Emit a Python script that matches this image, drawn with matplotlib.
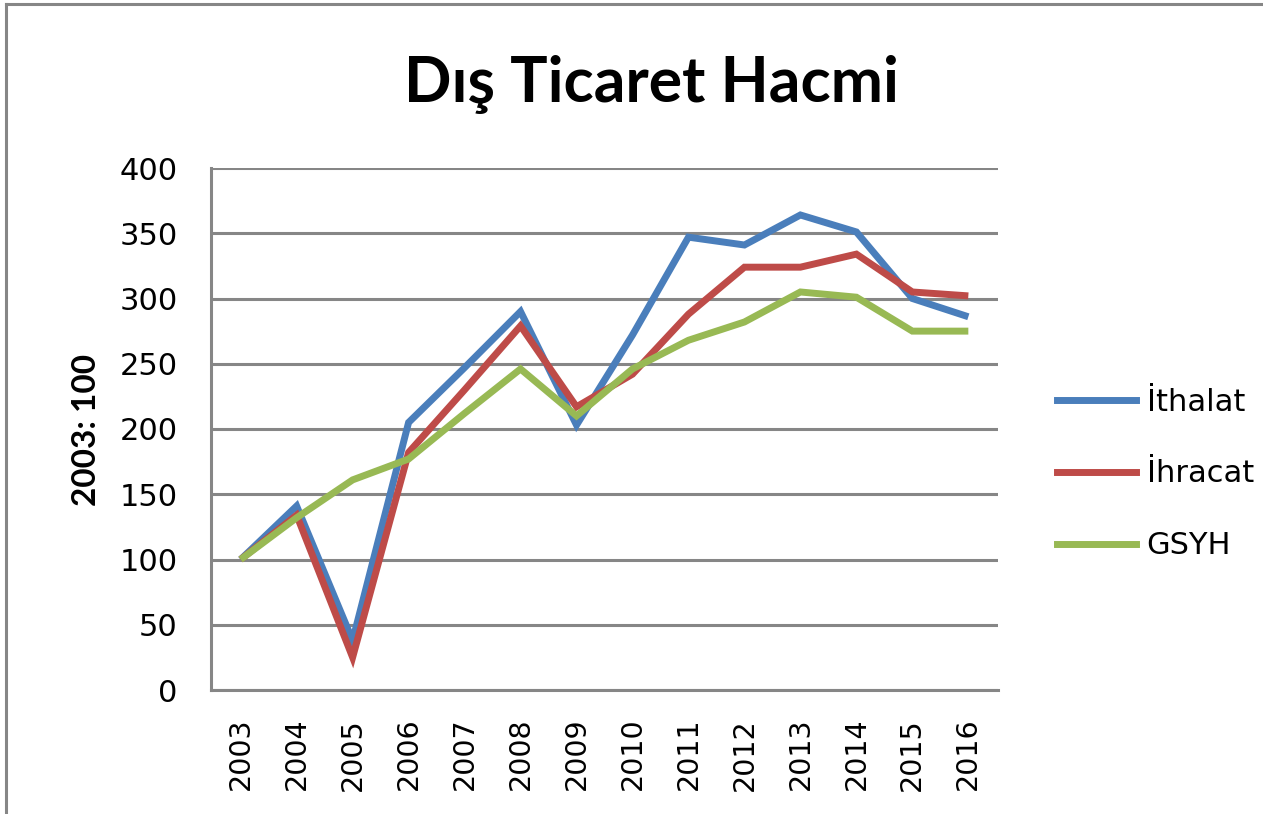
import matplotlib.pyplot as plt
from matplotlib.lines import Line2D

years = ["2003", "2004", "2005", "2006", "2007", "2008", "2009",
         "2010", "2011", "2012", "2013", "2014", "2015", "2016"]

ithalat = [100, 141, 38, 205, 247, 290, 203, 272, 347, 341, 364, 351, 300, 286]
ihracat = [100, 134, 25, 182, 230, 279, 217, 242, 288, 324, 324, 334, 305, 302]
gsyh = [100, 132, 161, 177, 212, 246, 210, 246, 268, 282, 305, 301, 275, 275]

series_names = ["İthalat", "İhracat", "GSYH"]
colors = ["#4a7ebb", "#be4b48", "#98b954"]
grid_gray = "#868686"

W, H = 1263, 814
fig = plt.figure(figsize=(W / 100, H / 100), dpi=100)
ax = fig.add_axes([211 / W, 1 - 690 / H, (998 - 211) / W, (690 - 168) / H])

x = list(range(len(years)))
for vals, c in zip([ithalat, ihracat, gsyh], colors):
    ax.plot(x, vals, color=c, lw=5, solid_joinstyle="miter", solid_capstyle="butt")

ax.set_xlim(-0.53, len(years) - 0.47)
ax.set_ylim(0, 400)
ax.set_yticks(range(0, 401, 50))
ax.set_xticks(x)
ax.set_xticklabels(years, rotation=90, fontsize=20.5, family="DejaVu Sans")
for lab in ax.get_yticklabels():
    lab.set_fontsize(22)
ax.tick_params(axis="both", length=0)
ax.tick_params(axis="y", pad=24)
ax.tick_params(axis="x", pad=20)
ax.grid(axis="y", color=grid_gray, lw=2.2)
ax.set_axisbelow(True)
for s in ["top", "right"]:
    ax.spines[s].set_visible(False)
for s in ["left", "bottom"]:
    ax.spines[s].set_color(grid_gray)
    ax.spines[s].set_linewidth(2.2)

fig.text(86 / W, 1 - 430 / H, "2003: 100", rotation=90, ha="center", va="center",
         fontsize=24, fontweight="bold", family="Lato")
fig.text(651 / W, 1 - 84 / H, "Dış Ticaret Hacmi", ha="center", va="center",
         fontsize=45, fontweight="bold", family="Lato")

handles = [Line2D([], [], color=c, lw=5) for c in colors]
fig.legend(handles, series_names, loc="center left",
           bbox_to_anchor=(1057 / W, 1 - 474 / H), frameon=False,
           fontsize=22, handlelength=2.6, handletextpad=0.33, labelspacing=1.4,
           borderpad=0, borderaxespad=0)

# chart area border (top and left only visible)
fig.add_artist(Line2D([6 / W, 6 / W], [0, 1 - 4 / H], color=grid_gray, lw=2.2))
fig.add_artist(Line2D([6 / W, 1], [1 - 4 / H, 1 - 4 / H], color=grid_gray, lw=2.2))

fig.savefig("out.png", dpi=100)
